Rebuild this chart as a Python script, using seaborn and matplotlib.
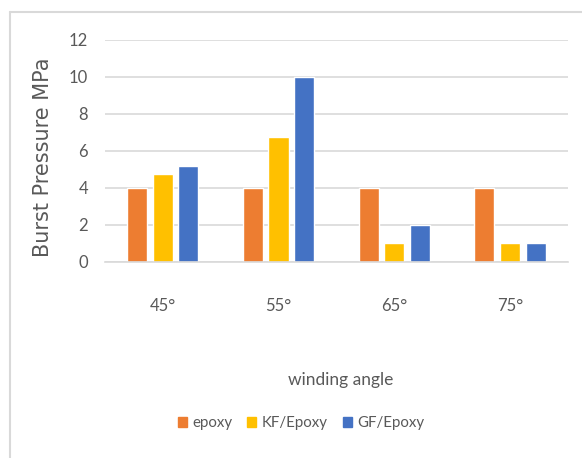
import seaborn as sns
import matplotlib.pyplot as plt
import pandas as pd
from matplotlib.lines import Line2D

angles = ["45°", "55°", "65°", "75°"]
materials = ["epoxy", "KF/Epoxy", "GF/Epoxy"]
epoxy = [4, 4, 4, 4]
kf_epoxy = [4.75, 6.75, 1, 1]
gf_epoxy = [5.2, 10, 2, 1]
colors = ["#ED7D31", "#FFC000", "#4472C4"]

rows = []
for name, vals in zip(materials, [epoxy, kf_epoxy, gf_epoxy]):
    for a, v in zip(angles, vals):
        rows.append({"angle": a, "material": name, "pressure": v})
df = pd.DataFrame(rows)

sns.set_style("white")
plt.rcParams["font.family"] = ["Lato", "DejaVu Sans"]

fig = plt.figure(figsize=(5.82, 4.58), dpi=100)
ax = fig.add_axes([0.180, 0.428, 0.796, 0.485])

sns.barplot(data=df, x="angle", y="pressure", hue="material", order=angles,
            hue_order=materials, palette=colors, width=0.667, gap=0.22,
            saturation=1, legend=False, ax=ax)

ax.set_ylim(0, 12)
ax.set_yticks(range(0, 13, 2))
ax.set_xlim(-0.5, 3.5)
ax.grid(axis="y", color="#d9d9d9", linewidth=1.2)
ax.set_axisbelow(True)
for s in ["top", "right", "left"]:
    ax.spines[s].set_visible(False)
ax.spines["bottom"].set_color("#d9d9d9")
ax.spines["bottom"].set_linewidth(1.2)
ax.tick_params(axis="both", length=0, colors="#595959", labelsize=12)
ax.tick_params(axis="x", pad=26)
ax.tick_params(axis="y", pad=12)

ax.set_xlabel("")
ax.set_ylabel("Burst Pressure MPa", fontsize=15, color="#595959",
              family="DejaVu Sans")
ax.yaxis.set_label_coords(-0.112, 0.47)
fig.text(0.585, 0.17, "winding angle", ha="center", va="center",
         fontsize=12.5, color="#595959")

handles = [plt.Rectangle((0, 0), 1, 1, color=c) for c in colors]
fig.legend(handles, materials, loc="center", bbox_to_anchor=(0.517, 0.076),
           ncol=3, frameon=False, fontsize=10.8, labelcolor="#595959",
           handlelength=0.6, handleheight=0.7, handletextpad=0.35,
           columnspacing=1.0)

# outer chart border
fig.add_artist(Line2D([10 / 582, 1], [1 - 12 / 458] * 2, color="#d9d9d9", lw=1.5))
fig.add_artist(Line2D([10 / 582] * 2, [0, 1 - 12 / 458], color="#d9d9d9", lw=1.5))

fig.savefig("out.png", dpi=100)
